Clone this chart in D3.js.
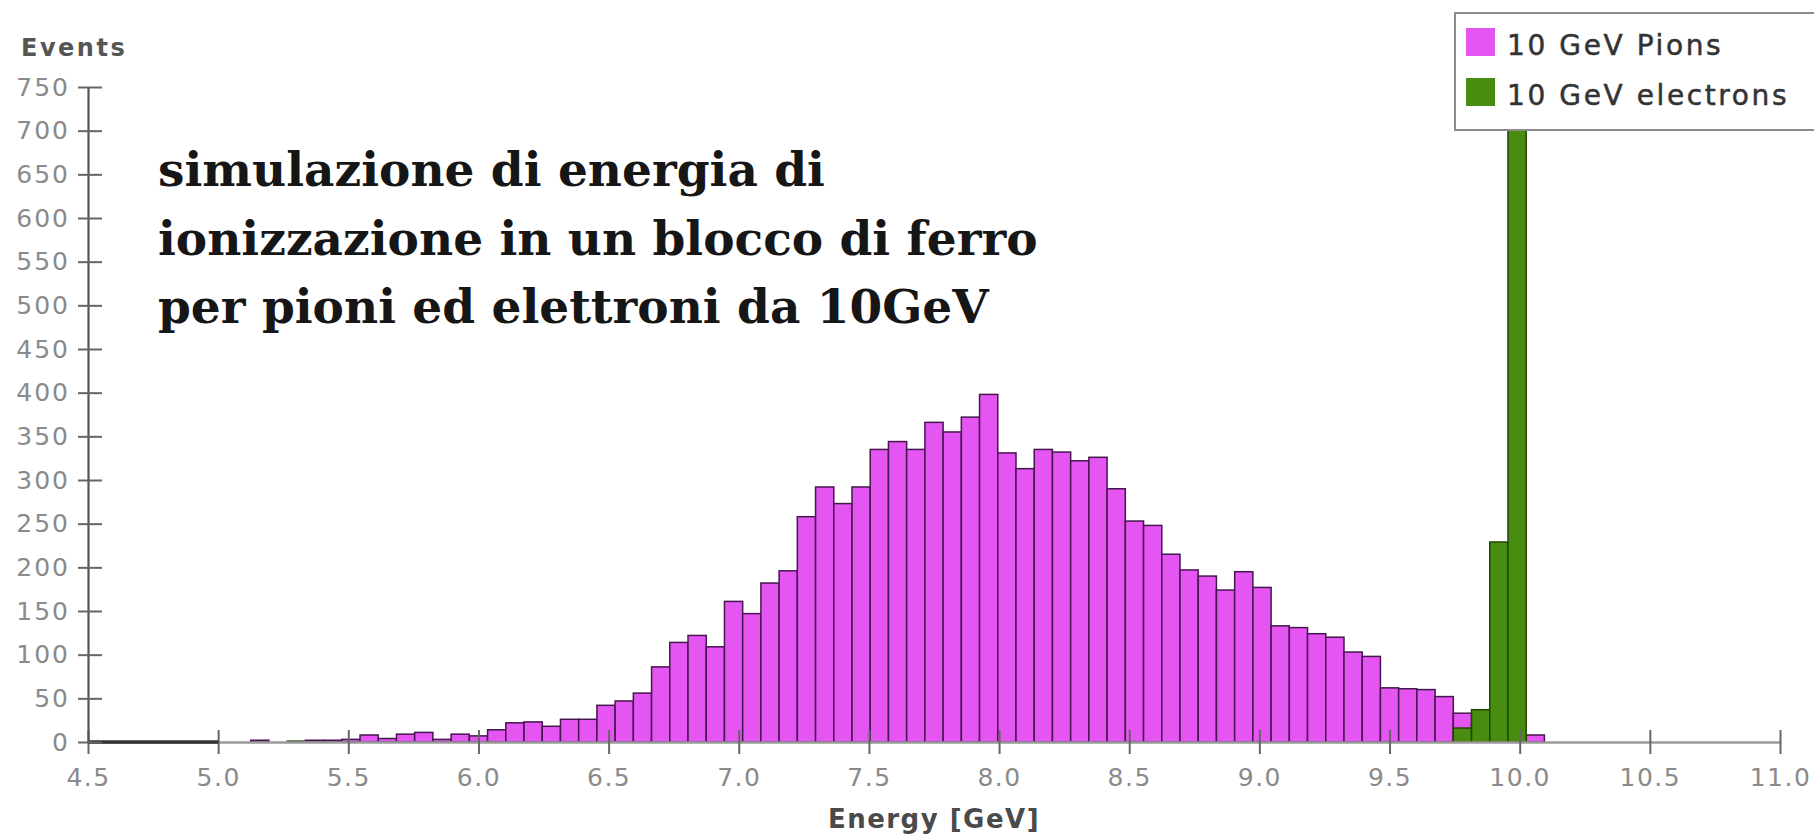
<!DOCTYPE html>
<html>
<head>
<meta charset="utf-8">
<script src="https://cdn.jsdelivr.net/npm/d3@7"></script>
<style>
  html, body { margin: 0; padding: 0; background: #ffffff; }
  svg { display: block; }
</style>
</head>
<body>
<svg id="chart" width="1814" height="839"></svg>
<script>
// Histogram bins: lower edge of each energy bin [GeV]
const binLow = [
  5.125, 5.195, 5.265, 5.335, 5.405, 5.475, 5.545, 5.615, 5.685, 5.755,
  5.825, 5.895, 5.965, 6.035, 6.105, 6.175, 6.245, 6.315, 6.385, 6.455,
  6.525, 6.595, 6.665, 6.735, 6.805, 6.875, 6.945, 7.015, 7.085, 7.155,
  7.225, 7.295, 7.365, 7.435, 7.505, 7.575, 7.645, 7.715, 7.785, 7.855,
  7.925, 7.995, 8.065, 8.135, 8.205, 8.275, 8.345, 8.415, 8.485, 8.555,
  8.625, 8.695, 8.765, 8.835, 8.905, 8.975, 9.045, 9.115, 9.185, 9.255,
  9.325, 9.395, 9.465, 9.535, 9.605, 9.675, 9.745, 9.815, 9.885, 9.955,
  10.025
];
const binWidth = 0.07;

// Events per bin, 10 GeV pions
const pionCounts = [
  2, 0, 0, 2, 2, 3, 8, 4, 9, 11,
  3, 9, 7, 14, 22, 23, 18, 26, 26, 42,
  47, 56, 86, 114, 122, 109, 161, 147, 182, 196,
  258, 292, 273, 292, 335, 344, 335, 366, 355, 372,
  398, 331, 313, 335, 332, 322, 326, 290, 253, 248,
  215, 197, 190, 174, 195, 177, 133, 131, 124, 120,
  103, 98, 62, 61, 60, 52, 33, 22, 12, 6,
  8
];

// Events per bin, 10 GeV electrons
const electronCounts = [
  0, 0, 1, 0, 0, 0, 0, 0, 0, 0,
  0, 0, 0, 0, 0, 0, 0, 0, 0, 0,
  0, 0, 0, 0, 0, 0, 0, 0, 0, 0,
  0, 0, 0, 0, 0, 0, 0, 0, 0, 0,
  0, 0, 0, 0, 0, 0, 0, 0, 0, 0,
  0, 0, 0, 0, 0, 0, 0, 0, 0, 0,
  0, 0, 0, 0, 0, 0, 16, 37, 229, 710,
  0
];

const seriesNames = ["10 GeV Pions", "10 GeV electrons"];
const xTicks = [4.5, 5.0, 5.5, 6.0, 6.5, 7.0, 7.5, 8.0, 8.5, 9.0, 9.5, 10.0, 10.5, 11.0];
const yTicks = [0, 50, 100, 150, 200, 250, 300, 350, 400, 450, 500, 550, 600, 650, 700, 750];
const noteLines = [
  "simulazione di energia di",
  "ionizzazione in un blocco di ferro",
  "per pioni ed elettroni da 10GeV"
];

const colors = {
  pion: "#e455f2", pionStroke: "#45164f",
  electron: "#488c10", electronStroke: "#214506"
};

const svg = d3.select("#chart");
const plot = { left: 88, right: 1780, top: 87, bottom: 742 };

const x = d3.scaleLinear().domain([4.5, 11.0]).range([plot.left, plot.right]);
const y = d3.scaleLinear().domain([0, 750]).range([plot.bottom, plot.top]);

const labelFont = "'DejaVu Sans', Verdana, sans-serif";

// ---- bars ----
function drawSeries(counts, fill, stroke, cls) {
  const data = binLow.map((lo, i) => ({ lo, hi: lo + binWidth, v: counts[i] })).filter(d => d.v > 0);
  svg.append("g").attr("class", cls)
    .selectAll("rect").data(data).join("rect")
    .attr("x", d => x(d.lo))
    .attr("y", d => y(d.v))
    .attr("width", d => x(d.hi) - x(d.lo))
    .attr("height", d => y(0) - y(d.v))
    .attr("fill", fill)
    .attr("stroke", stroke)
    .attr("stroke-width", 1.5);
}
drawSeries(pionCounts, colors.pion, colors.pionStroke, "pions");
drawSeries(electronCounts, colors.electron, colors.electronStroke, "electrons");

// ---- x axis ----
const xAxis = d3.axisBottom(x).tickValues(xTicks).tickFormat(d3.format(".1f")).tickSizeInner(12).tickSizeOuter(0).tickPadding(14);
const gx = svg.append("g").attr("transform", `translate(0,${plot.bottom})`).call(xAxis);
gx.select(".domain").attr("stroke", "#9a9a9a").attr("stroke-width", 2.5);
gx.selectAll(".tick line").attr("stroke", "#666").attr("stroke-width", 2).attr("y1", -12);
gx.selectAll(".tick text")
  .attr("fill", "#8a8a8a").attr("font-family", labelFont).attr("font-size", 25)
  .attr("letter-spacing", 1.5);

// darker empty-bin baseline at the low end of the range
svg.append("line")
  .attr("x1", x(4.5)).attr("x2", x(5.0))
  .attr("y1", y(0)).attr("y2", y(0))
  .attr("stroke", "#333").attr("stroke-width", 3.5);

// ---- y axis ----
const yAxis = d3.axisLeft(y).tickValues(yTicks).tickFormat(d3.format("d")).tickSizeInner(10).tickSizeOuter(0).tickPadding(8);
const gy = svg.append("g").attr("transform", `translate(${plot.left},0)`).call(yAxis);
gy.select(".domain").attr("stroke", "#555").attr("stroke-width", 2.2);
gy.selectAll(".tick line").attr("stroke", "#666").attr("stroke-width", 2).attr("x2", 14).attr("x1", -10);
gy.selectAll(".tick text")
  .attr("fill", "#8a8a8a").attr("font-family", labelFont).attr("font-size", 25)
  .attr("letter-spacing", 2);

// ---- axis titles ----
svg.append("text")
  .attr("x", 21).attr("y", 56)
  .attr("fill", "#555").attr("font-family", labelFont).attr("font-size", 24)
  .attr("font-weight", "bold").attr("letter-spacing", 2.5)
  .text("Events");

svg.append("text")
  .attr("x", (plot.left + plot.right) / 2).attr("y", 828)
  .attr("text-anchor", "middle")
  .attr("fill", "#4a4a4a").attr("font-family", labelFont).attr("font-size", 26)
  .attr("font-weight", "bold").attr("letter-spacing", 1.5)
  .text("Energy [GeV]");

// ---- annotation ----
const note = svg.append("text")
  .attr("font-family", "'DejaVu Serif', 'Liberation Serif', serif")
  .attr("font-weight", "bold").attr("font-size", 47)
  .attr("fill", "#161616");
noteLines.forEach((line, i) => {
  note.append("tspan").attr("x", 158).attr("y", 186 + i * 68.5).text(line);
});

// ---- legend ----
const legend = svg.append("g").attr("transform", "translate(1455,13)");
legend.append("rect")
  .attr("x", 0).attr("y", 0).attr("width", 400).attr("height", 117)
  .attr("fill", "#ffffff").attr("stroke", "#8c8c8c").attr("stroke-width", 2);
const legendItems = [
  { name: seriesNames[0], fill: colors.pion },
  { name: seriesNames[1], fill: colors.electron }
];
legendItems.forEach((d, i) => {
  const row = legend.append("g").attr("transform", `translate(0,${15 + i * 50})`);
  row.append("rect").attr("x", 11).attr("y", 0).attr("width", 29).attr("height", 28)
    .attr("fill", d.fill);
  row.append("text").attr("x", 52).attr("y", 27)
    .attr("fill", "#333").attr("font-family", labelFont).attr("font-size", 28)
    .attr("letter-spacing", 2.6)
    .attr("stroke", "#333").attr("stroke-width", 0.5)
    .text(d.name);
});
legend.raise();
</script>
</body>
</html>
